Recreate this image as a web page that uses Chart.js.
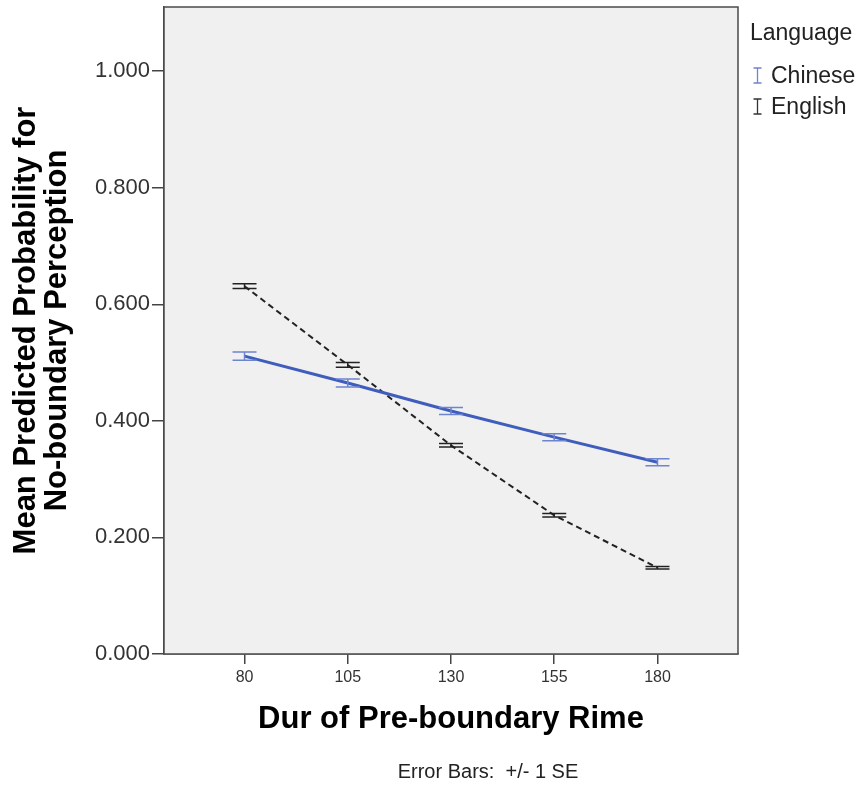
<!DOCTYPE html>
<html>
<head>
<meta charset="utf-8">
<script src="https://cdn.jsdelivr.net/npm/chart.js@4.4.1/dist/chart.umd.min.js"></script>
<style>
  body { margin: 0; background: #ffffff; font-family: "Liberation Sans", Arial, sans-serif; }
  #wrap { position: relative; width: 868px; height: 786px; }
  .legend { position: absolute; left: 750px; top: 14px; color: #222; font-size: 23px; }
  .legend .title { height: 46px; line-height: 36px; }
  .legend .item { height: 31px; line-height: 31px; white-space: nowrap; }
  .legend svg { vertical-align: -1px; margin-right: 9px; margin-left: 3px; }
  .note { position: absolute; left: 0; width: 976px; top: 760px; text-align: center; font-size: 20px; color: #222; }
</style>
</head>
<body>
<div id="wrap">
  <canvas id="rimeChart" width="868" height="786"></canvas>
  <div class="legend">
    <div class="title">Language</div>
    <div class="item"><svg width="9" height="17"><path d="M0.5 1h8M4.5 1v15M0.5 16h8" stroke="#6d84cf" stroke-width="1.3" fill="none"/></svg>Chinese</div>
    <div class="item"><svg width="9" height="17"><path d="M0.5 1h8M4.5 1v15M0.5 16h8" stroke="#333" stroke-width="1.3" fill="none"/></svg>English</div>
  </div>
  <div class="note">Error Bars:&nbsp; +/- 1 SE</div>
</div>
<script>
// Data
const durations = [80, 105, 130, 155, 180];
const chineseMean = [0.511, 0.465, 0.417, 0.372, 0.329];
const chineseSE = [0.007, 0.007, 0.006, 0.006, 0.006];
const englishMean = [0.631, 0.496, 0.358, 0.238, 0.148];
const englishSE = [0.004, 0.004, 0.003, 0.003, 0.002];
const yTicks = [0, 0.2, 0.4, 0.6, 0.8, 1.0];

const errorSets = [
  { se: chineseSE, color: '#6d84cf' },
  { se: englishSE, color: '#222222' }
];

// Plot background and frame
const framePlugin = {
  id: 'frame',
  beforeDatasetsDraw(chart) {
    const a = chart.chartArea;
    const ctx = chart.ctx;
    ctx.save();
    ctx.fillStyle = '#f0f0f0';
    ctx.fillRect(a.left, a.top, a.right - a.left, a.bottom - a.top);
    ctx.restore();
  },
  afterDraw(chart) {
    const a = chart.chartArea;
    const ctx = chart.ctx;
    ctx.save();
    ctx.strokeStyle = '#4a4a4a';
    ctx.lineWidth = 1.5;
    ctx.strokeRect(a.left, a.top, a.right - a.left, a.bottom - a.top);
    ctx.restore();
  }
};

// Error bars (+/- 1 SE)
const errorBarPlugin = {
  id: 'errorBars',
  afterDatasetsDraw(chart) {
    const ctx = chart.ctx;
    const xs = chart.scales.x;
    const ys = chart.scales.y;
    ctx.save();
    chart.data.datasets.forEach(function(ds, di) {
      const info = errorSets[di];
      ctx.strokeStyle = info.color;
      ctx.lineWidth = 1.5;
      ds.data.forEach(function(pt, i) {
        const x = xs.getPixelForValue(pt.x);
        const yHi = ys.getPixelForValue(pt.y + info.se[i]);
        const yLo = ys.getPixelForValue(pt.y - info.se[i]);
        ctx.beginPath();
        ctx.moveTo(x, yHi); ctx.lineTo(x, yLo);
        ctx.moveTo(x - 12, yHi); ctx.lineTo(x + 12, yHi);
        ctx.moveTo(x - 12, yLo); ctx.lineTo(x + 12, yLo);
        ctx.stroke();
      });
    });
    ctx.restore();
  }
};

const ctx = document.getElementById('rimeChart').getContext('2d');
new Chart(ctx, {
  type: 'line',
  data: {
    datasets: [{
      label: 'Chinese',
      data: durations.map((d, i) => ({ x: d, y: chineseMean[i] })),
      borderColor: '#3f5dbd',
      borderWidth: 3,
      pointRadius: 0,
      tension: 0
    }, {
      label: 'English',
      data: durations.map((d, i) => ({ x: d, y: englishMean[i] })),
      borderColor: '#222222',
      borderWidth: 2,
      borderDash: [6, 4],
      pointRadius: 0,
      tension: 0
    }]
  },
  options: {
    responsive: false,
    animation: false,
    layout: { padding: { top: 7, right: 130, bottom: 48, left: 0 } },
    plugins: {
      legend: { display: false },
      tooltip: { enabled: false }
    },
    scales: {
      x: {
        type: 'linear',
        min: 60.5,
        max: 199.5,
        afterBuildTicks(scale) {
          scale.ticks = durations.map(v => ({ value: v }));
        },
        afterFit(scale) {
          scale.height = 84;
          scale.paddingLeft = 0;
          scale.paddingRight = 0;
        },
        grid: { drawOnChartArea: false, tickLength: 10, color: '#444', lineWidth: 1.5 },
        border: { display: true, color: '#4a4a4a', width: 1.5 },
        ticks: {
          padding: 4,
          color: '#333',
          font: { family: 'Liberation Sans', size: 16 },
          callback: v => String(v)
        },
        title: {
          display: true,
          text: 'Dur of Pre-boundary Rime',
          color: '#000',
          padding: 0,
          font: { family: 'Liberation Sans', size: 31, weight: 'bold', lineHeight: 1.2 }
        }
      },
      y: {
        min: 0,
        max: 1.11,
        afterBuildTicks(scale) {
          scale.ticks = yTicks.map(v => ({ value: v }));
        },
        afterFit(scale) {
          scale.width = 164;
          scale.paddingTop = 0;
          scale.paddingBottom = 0;
        },
        grid: { drawOnChartArea: false, tickLength: 12, color: '#444', lineWidth: 1.5 },
        border: { display: true, color: '#4a4a4a', width: 1.5 },
        ticks: {
          padding: 2,
          color: '#333',
          font: { family: 'Liberation Sans', size: 22 },
          callback: v => v.toFixed(3)
        },
        title: {
          display: true,
          text: ['Mean Predicted Probability for', 'No-boundary Perception'],
          color: '#000',
          padding: { top: 11, bottom: 0 },
          font: { family: 'Liberation Sans', size: 31, weight: 'bold', lineHeight: 1.0 }
        }
      }
    }
  },
  plugins: [framePlugin, errorBarPlugin]
});
</script>
</body>
</html>
